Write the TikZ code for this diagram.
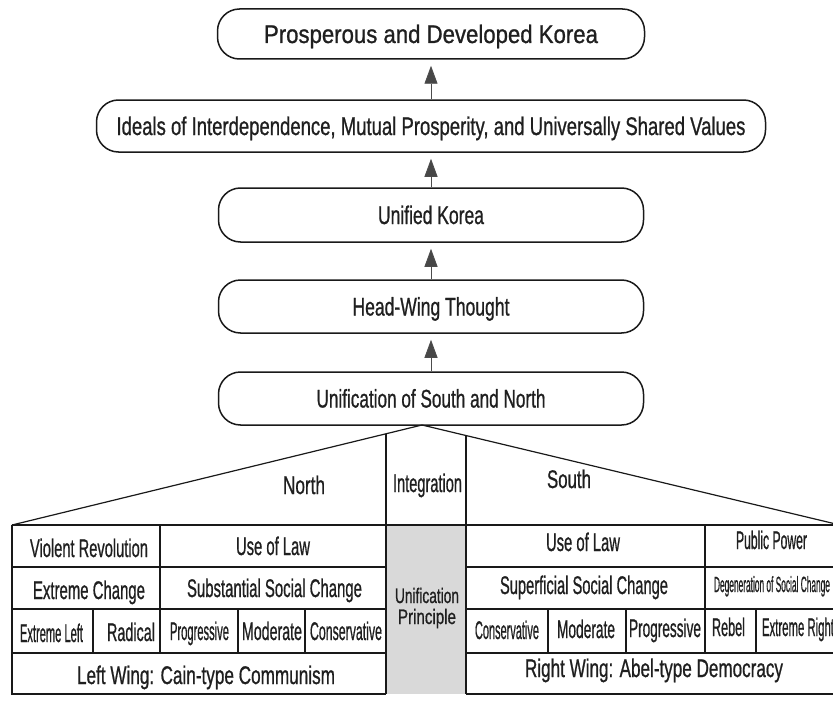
\documentclass[tikz,border=0pt]{standalone}
\usepackage{fontspec}
\setmainfont{Liberation Sans}
\newfontfamily\hv{Liberation Sans}[FakeBold=1]
\usepackage{graphicx}
\usetikzlibrary{arrows.meta,calc}
\newlength\fitlen
\newcommand\fitw[2]{\settowidth\fitlen{#2}\pgfmathsetmacro\fitfac{#1/\fitlen}\scalebox{\fitfac}[1]{#2}}
\tikzset{
  txt/.style={inner sep=0pt, text height=18pt, text depth=0pt, font=\hv\fontsize{25.5}{30}\selectfont, text=black!88},
  smalltxt/.style={inner sep=0pt, font=\hv\fontsize{21}{23}\selectfont, text=black!88},
  box/.style={draw=black!90, line width=1.5pt, rounded corners=22pt, inner sep=0pt, text height=18pt, text depth=0pt, font=\hv\fontsize{25.5}{30}\selectfont, text=black!88},
  arr/.style={draw=black!70, line width=0.9pt, -{Triangle[length=18pt,width=13pt,fill=black!72]}, shorten >=6pt},
  tbl/.style={draw=black!90, line width=1.2pt},
}
\begin{document}
\begin{tikzpicture}[x=1pt,y=-1pt]
\useasboundingbox (0,0) rectangle (833,701);
% top chain of boxes
\node[box, minimum width=427pt, minimum height=50pt] (b1) at (431,34) {\fitw{334}{Prosperous and Developed Korea}};
\node[box, minimum width=669pt, minimum height=52pt] (b2) at (431,126) {\fitw{629}{Ideals of Interdependence, Mutual Prosperity, and Universally Shared Values}};
\node[box, minimum width=425pt, minimum height=54pt] (b3) at (431,215) {\fitw{106}{Unified Korea}};
\node[box, minimum width=425pt, minimum height=53pt] (b4) at (431,306.5) {\fitw{157}{Head-Wing Thought}};
\node[box, minimum width=425pt, minimum height=53pt] (b5) at (431,398.5) {\fitw{229}{Unification of South and North}};
\draw[arr] (b2.north) -- (b1.south);
\draw[arr] (b3.north) -- (b2.south);
\draw[arr] (b4.north) -- (b3.south);
\draw[arr] (b5.north) -- (b4.south);
% roof and table frame
\coordinate (apex) at (422,425);
\coordinate (TL) at (12,525);
\coordinate (TR) at (840,525);
\coordinate (vL) at ($(apex)!0.0878!(TL)$);
\coordinate (vR) at ($(apex)!0.1053!(TR)$);
\fill[black!15] (386,525) rectangle (466,694);
\draw[tbl] (TL) -- (apex) -- (TR);
\draw[tbl] (TL) -- (TR);
\draw[tbl] (TL) -- (12,694) -- (386,694);
\draw[tbl] (466,694) -- (840,694);
\draw[tbl] (vL) -- (vL |- 0,694);
\draw[tbl] (vR) -- (vR |- 0,694);
% rows
\foreach \yy in {567,609,653} {\draw[tbl] (12,\yy) -- (386,\yy); \draw[tbl] (466,\yy) -- (840,\yy);}
\draw[tbl] (160,525) -- (160,653);
\foreach \xx in {93,238,305} {\draw[tbl] (\xx,609) -- (\xx,653);}
\draw[tbl] (705,525) -- (705,653);
\foreach \xx in {548,626,756} {\draw[tbl] (\xx,609) -- (\xx,653);}
% headers
\node[txt] (north) at (304,485) {\fitw{42}{North}};
\node[txt] (integ) at (427.5,483) {\fitw{69}{Integration}};
\node[txt] (south) at (569,479) {\fitw{44}{South}};
\node[smalltxt, anchor=base] (unif) at (427,603) {\fitw{64}{Unification}};
\node[smalltxt, anchor=base] (princ) at (427,624) {\fitw{58}{Principle}};
% left cells
\node[txt] (vr) at (89,548) {\fitw{118}{Violent Revolution}};
\node[txt] (ulL) at (273,546) {\fitw{74}{Use of Law}};
\node[txt] (ec) at (89,590) {\fitw{112}{Extreme Change}};
\node[txt] (ssc) at (274.5,588) {\fitw{175}{Substantial Social Change}};
\node[txt] (el) at (51.5,633) {\fitw{63}{Extreme Left}};
\node[txt] (rad) at (131,632) {\fitw{48}{Radical}};
\node[txt] (progL) at (199.5,631) {\fitw{59}{Progressive}};
\node[txt] (modL) at (272,631) {\fitw{60}{Moderate}};
\node[txt] (consL) at (346,631) {\fitw{72}{Conservative}};
\node[txt] (lw) at (206,675) {\fitw{258}{Left Wing: Cain-type Communism}};
% right cells
\node[txt] (ulR) at (583,542) {\fitw{74}{Use of Law}};
\node[txt] (pp) at (771.5,540) {\fitw{71}{Public Power}};
\node[txt] (sup) at (584,585) {\fitw{168}{Superficial Social Change}};
\node[txt, font=\hv\fontsize{22}{25}\selectfont, text height=16pt] (deg) at (772,584) {\fitw{116}{Degeneration of Social Change}};
\node[txt] (consR) at (507,630) {\fitw{64}{Conservative}};
\node[txt] (modR) at (586,629) {\fitw{58}{Moderate}};
\node[txt] (progR) at (665,628) {\fitw{72}{Progressive}};
\node[txt] (reb) at (728.5,627) {\fitw{33}{Rebel}};
\node[txt] (er) at (798,627) {\fitw{72}{Extreme Right}};
\node[txt] (rw) at (654,668) {\fitw{258}{Right Wing: Abel-type Democracy}};
\end{tikzpicture}
\end{document}
